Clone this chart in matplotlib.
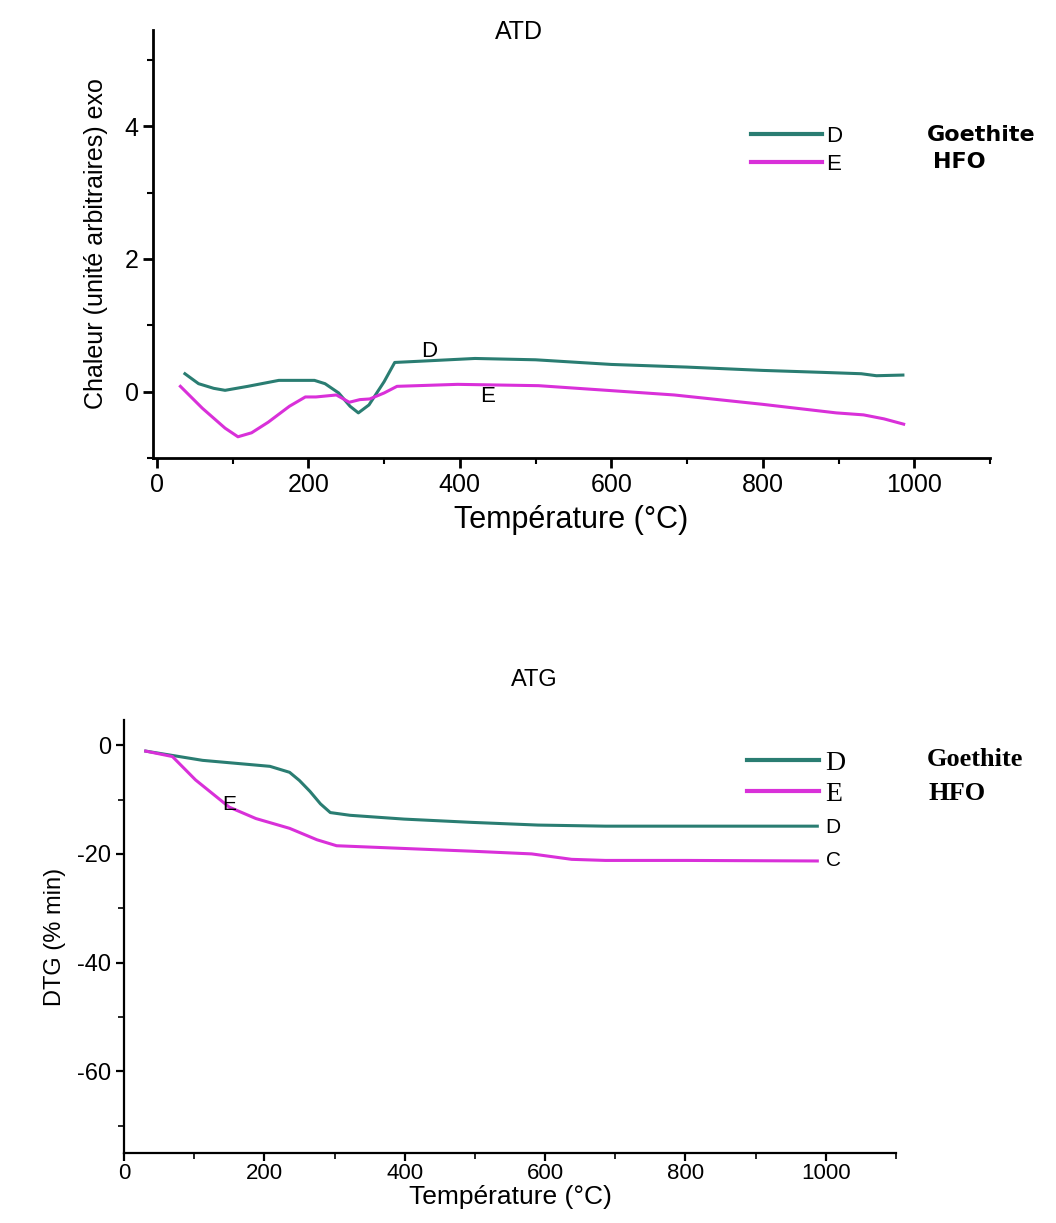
import matplotlib.pyplot as plt
import numpy as np
from matplotlib.ticker import MultipleLocator

plt.rcParams['font.family'] = ['Liberation Sans', 'DejaVu Sans']
plt.rcParams['axes.unicode_minus'] = False

# ATD data
atd_T_D = [37, 55, 75, 90, 120, 161, 208, 222, 240, 255, 266, 280, 300, 314, 350, 420, 500, 600, 700, 800, 880, 930, 950, 985]
atd_D = [0.27, 0.12, 0.05, 0.02, 0.08, 0.17, 0.17, 0.12, -0.02, -0.22, -0.32, -0.20, 0.15, 0.44, 0.46, 0.50, 0.48, 0.41, 0.37, 0.32, 0.29, 0.27, 0.24, 0.25]
atd_T_E = [31, 60, 90, 107, 125, 147, 175, 196, 210, 237, 254, 268, 281, 300, 317, 397, 504, 594, 683, 799, 897, 933, 960, 986]
atd_E = [0.08, -0.25, -0.55, -0.68, -0.62, -0.46, -0.22, -0.08, -0.08, -0.05, -0.16, -0.12, -0.11, -0.02, 0.08, 0.11, 0.09, 0.02, -0.05, -0.19, -0.32, -0.35, -0.41, -0.49]

# ATG data
atg_T_D = [31, 112, 208, 236, 250, 265, 280, 294, 322, 399, 495, 590, 686, 782, 988]
atg_D = [-1.1, -2.8, -3.9, -5.0, -6.5, -8.5, -10.8, -12.4, -12.9, -13.6, -14.2, -14.7, -14.9, -14.9, -14.9]
atg_T_E = [31, 69, 102, 150, 188, 236, 275, 303, 399, 495, 581, 638, 686, 800, 988]
atg_E = [-1.1, -2.1, -6.4, -11.4, -13.5, -15.3, -17.4, -18.5, -19.0, -19.5, -20.0, -21.0, -21.2, -21.2, -21.3]

teal = '#2a7d72'
magenta = '#d930d9'

fig = plt.figure(figsize=(10.56, 12.23), dpi=100)

# ---- ATD ----
ax1 = fig.add_axes([0.145, 0.6255, 0.7925, 0.35])
ax1.plot(atd_T_D, atd_D, color=teal, lw=2.2)
ax1.plot(atd_T_E, atd_E, color=magenta, lw=2.2)
ax1.set_xlim(-5, 1100)
ax1.set_ylim(-1, 5.45)
ax1.xaxis.set_major_locator(MultipleLocator(200))
ax1.xaxis.set_minor_locator(MultipleLocator(100))
ax1.yaxis.set_minor_locator(MultipleLocator(1))
ax1.set_yticks([0, 2, 4])
for s in ['top', 'right']:
    ax1.spines[s].set_visible(False)
for s in ['left', 'bottom']:
    ax1.spines[s].set_linewidth(2)
ax1.tick_params(which='major', direction='out', length=7, width=2, labelsize=18)
ax1.tick_params(which='minor', direction='out', length=4, width=1.5)
ax1.set_xlabel('Température (°C)', fontsize=22, labelpad=6)
ax1.set_ylabel('Chaleur (unité arbitraires) exo', fontsize=18, labelpad=12)
fig.text(519 / 1056, 1 - 32 / 1223, 'ATD', fontsize=18, ha='center', va='center')
ax1.text(360, 0.6, 'D', fontsize=16, ha='center', va='center')
ax1.text(437, -0.08, 'E', fontsize=16, ha='center', va='center')
leg1 = ax1.legend(['D', 'E'], loc='upper left', bbox_to_anchor=(0.69, 0.822), frameon=False,
                  fontsize=16, handlelength=3.2, handletextpad=0.2, labelspacing=0.3)
for l in leg1.get_lines():
    l.set_linewidth(3)
ax1.text(0.925, 0.755, 'Goethite', transform=ax1.transAxes, fontsize=16, fontweight='bold',
         family='DejaVu Sans', va='center')
ax1.text(0.932, 0.692, 'HFO', transform=ax1.transAxes, fontsize=16, fontweight='bold',
         family='DejaVu Sans', va='center')

# ---- ATG ----
ax2 = fig.add_axes([0.1174, 0.0572, 0.731, 0.354])
ax2.plot(atg_T_D, atg_D, color=teal, lw=2.2)
ax2.plot(atg_T_E, atg_E, color=magenta, lw=2.2)
ax2.set_xlim(0, 1100)
ax2.set_ylim(-75, 4.6)
ax2.xaxis.set_major_locator(MultipleLocator(200))
ax2.xaxis.set_minor_locator(MultipleLocator(100))
ax2.yaxis.set_minor_locator(MultipleLocator(10))
ax2.set_yticks([0, -20, -40, -60])
for s in ['top', 'right']:
    ax2.spines[s].set_visible(False)
for s in ['left', 'bottom']:
    ax2.spines[s].set_linewidth(1.6)
ax2.tick_params(which='major', direction='out', length=6, width=1.6, labelsize=17)
ax2.tick_params(which='minor', direction='out', length=4, width=1.2)
ax2.tick_params(axis='x', labelsize=16, pad=1)
ax2.set_xlabel('Température (°C)', fontsize=19, labelpad=1)
ax2.set_ylabel('DTG (% min)', fontsize=17, labelpad=8)
fig.text(534 / 1056, 1 - 680 / 1223, 'ATG', fontsize=17, ha='center', va='center')
ax2.text(150, -11, 'E', fontsize=15, ha='center', va='center')
ax2.text(1000, -15.1, 'D', fontsize=15, ha='left', va='center')
ax2.text(1000, -21.2, 'C', fontsize=15, ha='left', va='center')
leg2 = ax2.legend(['D', 'E'], loc='upper left', bbox_to_anchor=(0.775, 0.988), frameon=False,
                  prop={'family': 'Liberation Serif', 'size': 20}, handlelength=2.6,
                  handletextpad=0.2, labelspacing=0.2)
for l in leg2.get_lines():
    l.set_linewidth(3)
ax2.text(1.04, 0.908, 'Goethite', transform=ax2.transAxes, fontsize=19, fontweight='bold',
         family='Liberation Serif', va='center')
ax2.text(1.042, 0.831, 'HFO', transform=ax2.transAxes, fontsize=19, fontweight='bold',
         family='Liberation Serif', va='center')

fig.savefig('out.png', dpi=100)
